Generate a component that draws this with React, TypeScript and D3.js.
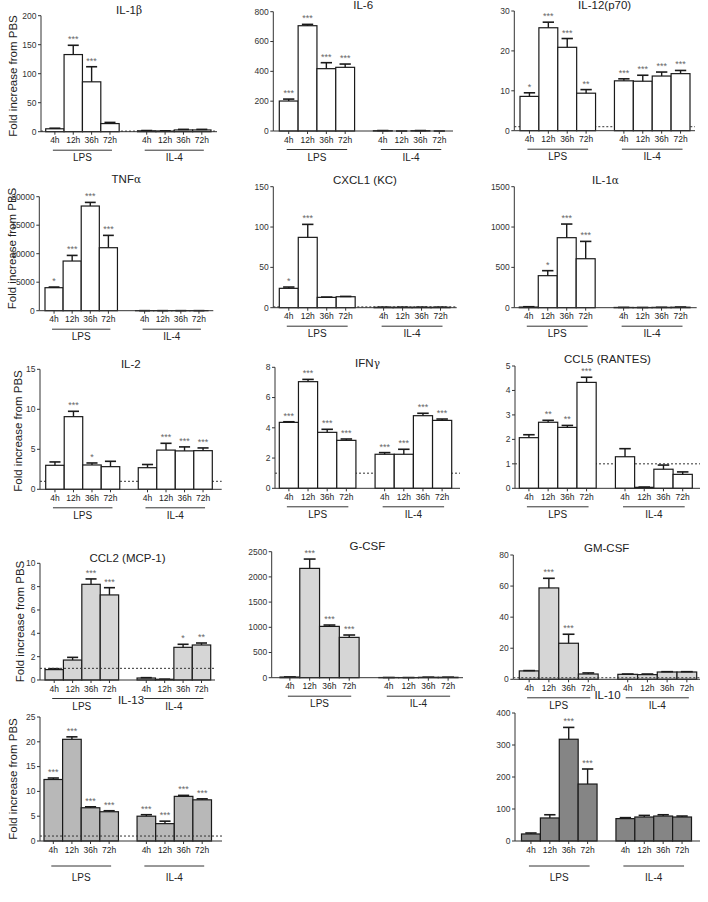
import React from "react";
import * as d3 from "d3";

const times = ["4h", "12h", "36h", "72h"];
const groupNames = ["LPS", "IL-4"];
const yLabelText = "Fold increase from PBS";

// IL-1β
const il1bMean = [5, 133, 86, 14, 1.5, 1, 3, 3];
const il1bErr = [6, 149, 112, 16, 2, 1.5, 4, 4];
const il1bStars = ["", "***", "***", "", "", "", "", ""];
const il1bTicks = [0, 50, 100, 150, 200];
// IL-6
const il6Mean = [201, 706, 418, 427, 2, 0, 2, 0];
const il6Err = [214, 715, 458, 449, 3, 0, 3, 0];
const il6Stars = ["***", "***", "***", "***", "", "", "", ""];
const il6Ticks = [0, 200, 400, 600, 800];
// IL-12(p70)
const il12Mean = [8.6, 25.8, 20.9, 9.4, 12.5, 12.4, 13.7, 14.3];
const il12Err = [9.5, 27.2, 23.1, 10.3, 13.0, 13.9, 14.7, 15.1];
const il12Stars = ["*", "***", "***", "**", "***", "***", "***", "***"];
const il12Ticks = [0, 10, 20, 30];
// TNFα
const tnfMean = [4035, 8713, 18363, 11050, 10, 10, 10, 10];
const tnfErr = [4150, 9700, 19000, 13216, 10, 10, 10, 10];
const tnfStars = ["*", "***", "***", "***", "", "", "", ""];
const tnfTicks = [0, 5000, 10000, 15000, 20000];
// CXCL1 (KC)
const cxcl1Mean = [24, 87.2, 12.8, 13.6, 0.5, 0.5, 0.5, 0.5];
const cxcl1Err = [25.6, 103.3, 13.2, 14, 0.6, 0.6, 0.6, 0.6];
const cxcl1Stars = ["*", "***", "", "", "", "", "", ""];
const cxcl1Ticks = [0, 50, 100, 150];
// IL-1α
const il1aMean = [8, 397, 868, 607, 3, 2, 4, 6];
const il1aErr = [12, 459, 1037, 822, 4, 3, 5, 8];
const il1aStars = ["", "*", "***", "***", "", "", "", ""];
const il1aTicks = [0, 500, 1000, 1500];
// IL-2
const il2Mean = [3.0, 9.08, 3.04, 2.83, 2.7, 4.9, 4.8, 4.83];
const il2Err = [3.42, 9.75, 3.29, 3.5, 3.1, 5.75, 5.3, 5.17];
const il2Stars = ["", "***", "*", "", "", "***", "***", "***"];
const il2Ticks = [0, 5, 10, 15];
// IFNγ
const ifngMean = [4.36, 7.05, 3.7, 3.17, 2.25, 2.25, 4.8, 4.49];
const ifngErr = [4.4, 7.2, 3.9, 3.26, 2.36, 2.58, 4.96, 4.58];
const ifngStars = ["***", "***", "***", "***", "***", "***", "***", "***"];
const ifngTicks = [0, 2, 4, 6, 8];
// CCL5 (RANTES)
const ccl5Mean = [2.07, 2.7, 2.49, 4.33, 1.29, 0.04, 0.78, 0.57];
const ccl5Err = [2.19, 2.78, 2.57, 4.54, 1.62, 0.05, 0.95, 0.67];
const ccl5Stars = ["", "**", "**", "***", "", "", "", ""];
const ccl5Ticks = [0, 1, 2, 3, 4, 5];
// CCL2 (MCP-1)
const ccl2Mean = [0.89, 1.71, 8.2, 7.29, 0.17, 0.06, 2.8, 3.0];
const ccl2Err = [0.97, 1.94, 8.66, 7.91, 0.2, 0.07, 3.06, 3.17];
const ccl2Stars = ["", "", "***", "***", "", "", "*", "**"];
const ccl2Ticks = [0, 2, 4, 6, 8, 10];
// G-CSF
const gcsfMean = [13, 2169, 1018, 800, 3, 2, 8, 8];
const gcsfErr = [15, 2354, 1045, 847, 4, 3, 10, 10];
const gcsfStars = ["", "***", "***", "***", "", "", "", ""];
const gcsfTicks = [0, 500, 1000, 1500, 2000, 2500];
// GM-CSF
const gmcsfMean = [5.4, 58.8, 23.2, 3.4, 3.2, 3.0, 4.7, 4.7];
const gmcsfErr = [5.6, 65, 29, 4.1, 3.4, 3.4, 4.9, 4.9];
const gmcsfStars = ["", "***", "***", "", "", "", "", ""];
const gmcsfTicks = [0, 20, 40, 60, 80];
// IL-13
const il13Mean = [12.4, 20.5, 6.7, 5.9, 5.0, 3.5, 9.0, 8.3];
const il13Err = [12.7, 21.0, 6.9, 6.1, 5.3, 4.0, 9.2, 8.5];
const il13Stars = ["***", "***", "***", "***", "***", "***", "***", "***"];
const il13Ticks = [0, 5, 10, 15, 20, 25];
// IL-10
const il10Mean = [22, 72, 318, 178, 70, 75, 78, 75];
const il10Err = [25, 82, 355, 225, 73, 80, 82, 78];
const il10Stars = ["", "", "***", "***", "", "", "", ""];
const il10Ticks = [0, 100, 200, 300, 400];

const FONT = "'Liberation Sans', Arial, Helvetica, sans-serif";
const GREEK = "'DejaVu Serif', serif";

type P = {
  title: string; greek?: string; mean: number[]; err: number[]; stars: string[]; ticks: number[];
  x0: number; x1: number; bx0: number; bx1: number; yTop: number; yZero: number; titleY: number;
  dashed: boolean; dashTop?: boolean; fill: string; lineOff?: number; labOff?: number;
};

const panels: P[] = [
  { title: "IL-1", greek: "β", mean: il1bMean, err: il1bErr, stars: il1bStars, ticks: il1bTicks,
    x0: 41, x1: 217, bx0: 45.7, bx1: 211, yTop: 15.7, yZero: 131.7, titleY: 14, dashed: true, fill: "#fff" },
  { title: "IL-6", mean: il6Mean, err: il6Err, stars: il6Stars, ticks: il6Ticks,
    x0: 273.3, x1: 453, bx0: 279.3, bx1: 448.7, yTop: 11.7, yZero: 131, titleY: 9, dashed: false, fill: "#fff" },
  { title: "IL-12(p70)", mean: il12Mean, err: il12Err, stars: il12Stars, ticks: il12Ticks,
    x0: 514.3, x1: 695, bx0: 520, bx1: 690, yTop: 11, yZero: 130.7, titleY: 9, dashed: true, fill: "#fff" },
  { title: "TNF", greek: "α", mean: tnfMean, err: tnfErr, stars: tnfStars, ticks: tnfTicks,
    x0: 39.3, x1: 213.3, bx0: 45, bx1: 208, yTop: 196.7, yZero: 310.7, titleY: 183, dashed: false, fill: "#fff" },
  { title: "CXCL1 (KC)", mean: cxcl1Mean, err: cxcl1Err, stars: cxcl1Stars, ticks: cxcl1Ticks,
    x0: 273.3, x1: 456.7, bx0: 279.3, bx1: 450, yTop: 186.7, yZero: 307.7, titleY: 184, dashed: true, fill: "#fff" },
  { title: "IL-1", greek: "α", mean: il1aMean, err: il1aErr, stars: il1aStars, ticks: il1aTicks,
    x0: 514.3, x1: 696.7, bx0: 519.3, bx1: 690, yTop: 186.7, yZero: 307.7, titleY: 184, dashed: false, fill: "#fff" },
  { title: "IL-2", mean: il2Mean, err: il2Err, stars: il2Stars, ticks: il2Ticks,
    x0: 40, x1: 221.7, bx0: 45.7, bx1: 212.3, yTop: 369.3, yZero: 489.3, titleY: 368, dashed: true, fill: "#fff" },
  { title: "IFN", greek: "γ", mean: ifngMean, err: ifngErr, stars: ifngStars, ticks: ifngTicks,
    x0: 275, x1: 460, bx0: 279.3, bx1: 451.7, yTop: 367.3, yZero: 488.3, titleY: 366.7, dashed: true, fill: "#fff" },
  { title: "CCL5 (RANTES)", mean: ccl5Mean, err: ccl5Err, stars: ccl5Stars, ticks: ccl5Ticks,
    x0: 515, x1: 700, bx0: 519.3, bx1: 692.3, yTop: 366, yZero: 488.3, titleY: 363.3, dashed: true, fill: "#fff" },
  { title: "CCL2 (MCP-1)", mean: ccl2Mean, err: ccl2Err, stars: ccl2Stars, ticks: ccl2Ticks,
    x0: 40, x1: 215, bx0: 45, bx1: 210.7, yTop: 563.3, yZero: 680, titleY: 561.7, dashed: true, dashTop: true, fill: "#d6d6d6" },
  { title: "G-CSF", mean: gcsfMean, err: gcsfErr, stars: gcsfStars, ticks: gcsfTicks,
    x0: 271.7, x1: 463, bx0: 280, bx1: 458, yTop: 551.7, yZero: 677.7, titleY: 549.7, dashed: false, fill: "#d6d6d6" },
  { title: "GM-CSF", mean: gmcsfMean, err: gmcsfErr, stars: gmcsfStars, ticks: gmcsfTicks,
    x0: 513.3, x1: 700, bx0: 519.3, bx1: 696.7, yTop: 555, yZero: 679.3, titleY: 552.3, dashed: true, dashTop: true, fill: "#d6d6d6" },
  { title: "IL-13", mean: il13Mean, err: il13Err, stars: il13Stars, ticks: il13Ticks,
    x0: 40, x1: 222, bx0: 44, bx1: 211.5, yTop: 717, yZero: 841, titleY: 704, dashed: true, dashTop: true, fill: "#b8b8b8",
    lineOff: 25, labOff: 40 },
  { title: "IL-10", mean: il10Mean, err: il10Err, stars: il10Stars, ticks: il10Ticks,
    x0: 515, x1: 700, bx0: 521.5, bx1: 691.5, yTop: 713, yZero: 841, titleY: 699, dashed: false, fill: "#858585",
    lineOff: 25, labOff: 40 },
];

const yLabels = [
  { x: 13.3, y: 76 },
  { x: 11.7, y: 248.5 },
  { x: 18.3, y: 431 },
  { x: 20, y: 621.5 },
  { x: 13, y: 779 },
];

const keys = [...times.map((t) => "L" + t), ...times.map((t) => "I" + t)];
const slots = [...times.map((t) => "L" + t), "gap", ...times.map((t) => "I" + t)];

function Panel({ p }: { p: P }) {
  const x = d3.scaleBand<string>().domain(slots).range([p.bx0, p.bx1]).padding(0);
  const y = d3.scaleLinear().domain([0, p.ticks[p.ticks.length - 1]]).range([p.yZero, p.yTop]);
  const bw = x.bandwidth();
  const cx = (k: string) => (x(k) as number) + bw / 2;
  const lineOff = p.lineOff ?? 18.5;
  const labOff = p.labOff ?? 29.5;
  const dash = p.dashed ? (
    <line x1={p.x0} x2={p.x1} y1={y(1)} y2={y(1)} stroke="#333" strokeWidth={1} strokeDasharray="2,2" />
  ) : null;
  const lines = groupNames.map((g, gi) => {
    const ks = keys.slice(gi * 4, gi * 4 + 4);
    const a = cx(ks[0]) - 2, b = cx(ks[3]) + 2;
    return (
      <g key={g}>
        <line x1={a} x2={b} y1={p.yZero + lineOff} y2={p.yZero + lineOff} stroke="#333" strokeWidth={1} />
        <text x={(a + b) / 2} y={p.yZero + labOff} textAnchor="middle" fontSize={10} fill="#222">{g}</text>
      </g>
    );
  });
  return (
    <g fontFamily={FONT}>
      <text x={(p.x0 + p.x1) / 2} y={p.titleY} textAnchor="middle" fontSize={11.5} fill="#222">
        {p.title}
        {p.greek ? <tspan fontFamily={GREEK} fontSize={10.5}>{p.greek}</tspan> : null}
      </text>
      {!p.dashTop && dash}
      {keys.map((k, i) => {
        const top = y(p.mean[i]);
        const et = y(p.err[i]);
        const c = cx(k);
        return (
          <g key={k}>
            <rect x={x(k)} y={top} width={bw} height={p.yZero - top} fill={p.fill} stroke="#1a1a1a" strokeWidth={1.2} />
            <line x1={c} x2={c} y1={top} y2={et} stroke="#1a1a1a" strokeWidth={1.4} />
            <line x1={c - bw * 0.3} x2={c + bw * 0.3} y1={et} y2={et} stroke="#1a1a1a" strokeWidth={1.6} />
            {p.stars[i] ? (
              <text x={c} y={et - 3} textAnchor="middle" fontSize={9} fill="#666">{p.stars[i]}</text>
            ) : null}
          </g>
        );
      })}
      {p.dashTop && dash}
      <line x1={p.x0} x2={p.x0} y1={p.yZero} y2={p.yTop} stroke="#333" strokeWidth={1} />
      <line x1={p.x0} x2={p.x1} y1={p.yZero} y2={p.yZero} stroke="#333" strokeWidth={1} />
      {p.ticks.map((t) => (
        <g key={t}>
          <line x1={p.x0 - 3} x2={p.x0} y1={y(t)} y2={y(t)} stroke="#333" strokeWidth={1} />
          <text x={p.x0 - 4.5} y={y(t)} dy="0.34em" textAnchor="end" fontSize={8.5} fill="#333">{t}</text>
        </g>
      ))}
      {keys.map((k, i) => (
        <g key={"t" + k}>
          <line x1={cx(k)} x2={cx(k)} y1={p.yZero} y2={p.yZero + 3} stroke="#333" strokeWidth={1} />
          <text x={cx(k)} y={p.yZero + 11.5} textAnchor="middle" fontSize={8.5} fill="#222">{times[i % 4]}</text>
        </g>
      ))}
      {lines}
    </g>
  );
}

export default function App() {
  return (
    <svg width={708} height={902} style={{ position: "absolute", left: 0, top: 0, background: "#fff" }}>
      <rect width={708} height={902} fill="#fff" />
      {panels.map((p, i) => <Panel key={i} p={p} />)}
      {yLabels.map((l, i) => (
        <text key={i} transform={`translate(${l.x},${l.y}) rotate(-90)`} textAnchor="middle" dy="0.35em"
          fontSize={11.5} fontFamily={FONT} fill="#222">{yLabelText}</text>
      ))}
    </svg>
  );
}
